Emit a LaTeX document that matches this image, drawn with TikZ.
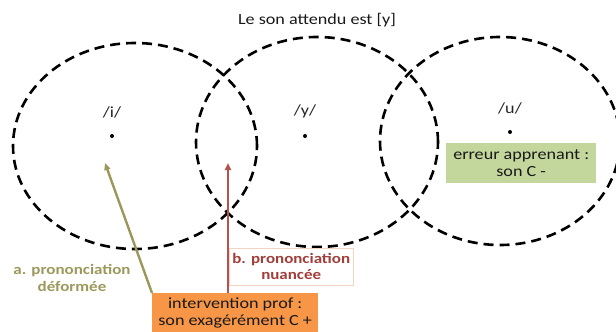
\documentclass[tikz,border=0pt]{standalone}
\usepackage{fontspec}
\setmainfont{Carlito}[FakeStretch=1.17]
\usetikzlibrary{arrows.meta,positioning}
\definecolor{olivecol}{HTML}{9C985C}
\definecolor{nuancecol}{HTML}{A03E3A}
\definecolor{nuanceline}{HTML}{B4524E}
\definecolor{nuancebord}{HTML}{F3D3C2}
\definecolor{profcol}{HTML}{F79646}
\definecolor{errcol}{HTML}{C3D69B}

\begin{document}
\begin{tikzpicture}[x=1pt,y=-1pt,font=\fontsize{15.5}{17}\selectfont,
  zone/.style={draw=black,line width=2.6pt,dash pattern=on 10pt off 6pt},
  vowel/.style={text=black!85},
  pt/.style={circle,fill=black,inner sep=0pt,minimum size=4pt},
  tag/.style={font=\fontsize{14.5}{16.5}\selectfont\bfseries,align=center},
  box/.style={anchor=north west,align=center,text=black!90}]
\clip (0,0) rectangle (616,332);

\node[text=black!90] (title) at (317,20) {Le son attendu est [y]};

% les trois zones
\draw[zone] (135,146) ellipse [x radius=122pt, y radius=103pt];
\draw[zone] (317,142) ellipse [x radius=121pt, y radius=105pt];
\draw[zone] (500,141) ellipse [x radius=120pt, y radius=104pt];

\node[pt] (i) at (112,136) {};
\node[pt] (y) at (305,136) {};
\node[pt] (u) at (510,132) {};
\node[vowel, above=12pt of i] (ilab) {/i/};
\node[vowel, above=12pt of y] (ylab) {/y/};
\node[vowel, above=12pt of u] (ulab) {/u/};

\node[box, fill=errcol, minimum width=150pt, minimum height=40pt] (err) at (446,143) {erreur apprenant :\\son C -};

\node[box, tag, draw=nuancebord, fill=white, text=nuancecol, inner xsep=3pt, minimum width=124pt, minimum height=37pt] (nuance) at (229,248) {b. prononciation\\nuancée};
\node[tag, text=olivecol] (deform) at (72,278) {a. prononciation\\déformée};

\node[box, fill=profcol, minimum width=166pt, minimum height=40pt] (prof) at (152,293) {intervention prof :\\son exagérément C +};

\coordinate (atip) at (105,163);
\coordinate (btip) at (228,163);
\draw[olivecol, line width=2.4pt, -{Triangle[length=7pt,width=6pt]}] (prof.north west) -- (atip);
\draw[nuanceline, line width=2pt, -{Triangle[length=7pt,width=6pt]}] (prof.north -| btip) -- (btip);
\end{tikzpicture}
\end{document}
